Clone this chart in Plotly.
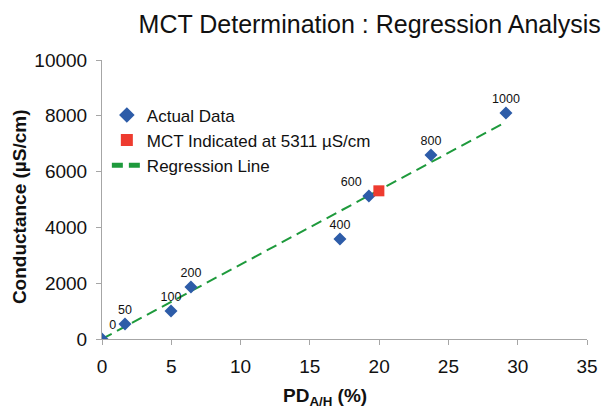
import plotly.graph_objects as go

# Data
pd_ah = [0, 1.66, 4.98, 6.42, 17.17, 19.26, 23.74, 29.15]
conductance = [0, 540, 1000, 1860, 3580, 5125, 6595, 8100]
point_labels = ["0", "50", "100", "200", "400", "600", "800", "1000"]
label_pos = ["top right", "top center", "top center", "top center", "top center",
             "top left", "top center", "top center"]

mct_x = [19.98]
mct_y = [5311]

reg_x = [0, 29.0]
reg_y = [0, 7740]

FONT = "Liberation Sans, Arial, sans-serif"

fig = go.Figure()
fig.add_trace(go.Scatter(
    x=reg_x, y=reg_y, mode="lines", name="Regression Line",
    line=dict(color="#1e9a3c", width=2, dash="11px,6px"),
))
fig.add_trace(go.Scatter(
    x=pd_ah, y=conductance, mode="markers+text", name="Actual Data",
    marker=dict(symbol="diamond", size=10, color="#2d5ca8"),
    text=point_labels, textposition=label_pos,
    textfont=dict(size=12.5, color="#111111", family=FONT),
))
fig.add_trace(go.Scatter(
    x=mct_x, y=mct_y, mode="markers", name="MCT Indicated at 5311 µS/cm",
    marker=dict(symbol="square", size=11, color="#ee3b2f"),
))

axis_common = dict(
    showgrid=False, zeroline=False, showline=True, linecolor="#a6a6a6", linewidth=1,
    ticks="outside", tickcolor="#a6a6a6", ticklen=5, automargin=False,
    tickfont=dict(size=19, color="#111111"), tickformat="d", ticklabelstandoff=5,
)

fig.update_layout(
    width=611, height=413,
    margin=dict(l=94, r=32, t=52, b=82),
    paper_bgcolor="white", plot_bgcolor="white",
    font=dict(family=FONT, color="#111111"),
    title=dict(text="MCT Determination : Regression Analysis",
               xref="container", x=0.592, xanchor="center",
               yref="container", y=0.961, yanchor="middle",
               font=dict(size=25, color="#111111")),
    xaxis=dict(range=[0, 35], dtick=5, **axis_common),
    yaxis=dict(range=[0, 10000], dtick=2000, **axis_common),
    legend=dict(x=0.01, y=0.866, xanchor="left", yanchor="top",
                font=dict(size=17, color="#111111"), bgcolor="rgba(0,0,0,0)",
                tracegroupgap=0, itemsizing="constant", traceorder="normal"),
    showlegend=True,
    annotations=[
        dict(text="<b>PD<sub>A/H</sub> (%)</b>", xref="paper", yref="paper",
             x=0.46, y=-0.208, xanchor="center", yanchor="middle",
             showarrow=False, font=dict(size=19, color="#111111")),
        dict(text="<b>Conductance (µS/cm)</b>", xref="paper", yref="paper",
             x=-0.171, y=0.473, xanchor="center", yanchor="middle", textangle=-90,
             showarrow=False, font=dict(size=19, color="#111111")),
    ],
)

# legend order: Actual Data, MCT, Regression Line
fig.data[0].legendrank = 3
fig.data[1].legendrank = 1
fig.data[2].legendrank = 2

fig.write_html("out.html")
